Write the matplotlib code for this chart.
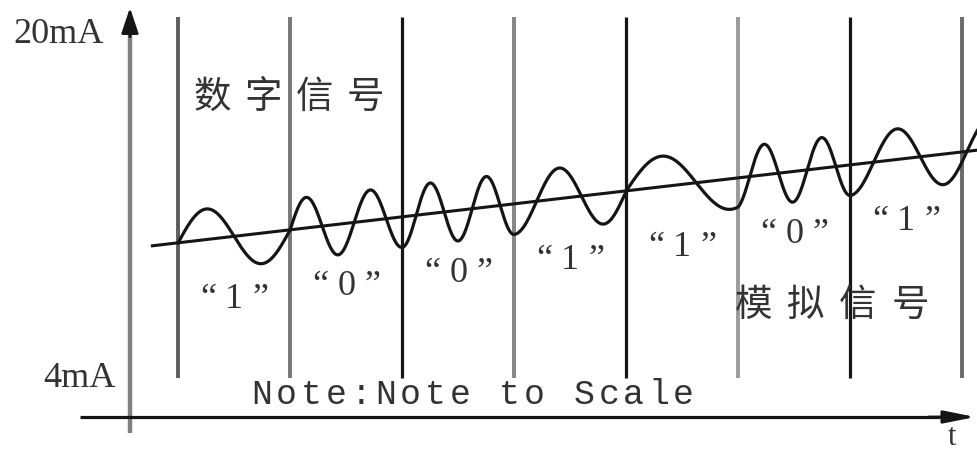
import numpy as np
import matplotlib
matplotlib.use('Agg')
import matplotlib.pyplot as plt

# HART style FSK: bit sequence and carrier cycles drawn in each bit cell
bits = ['1', '0', '0', '1', '1', '0', '1']
cycles = [1.0, 1.75, 2.0, 1.25, 0.8, 1.95, 1.2]

# analog loop current (mA) that the carrier rides on
line_t = [-0.23, 7.14]
line_ma = [10.1, 14.45]
amp_ma = 1.39

# bit cell dividers (bit index) and their ink
divider_t = [0, 1, 2, 3, 4, 5, 6, 7]
divider_colors = ['#5e5e5e', '#777777', '#161616', '#858585',
                  '#161616', '#9a9a9a', '#161616', '#6a6a6a']
divider_ma = [4.09, 20.5]

label_top = '20mA'
label_bottom = '4mA'
note = 'Note:Note to Scale'
digital_txt = '数字信号'
analog_txt = '模拟信号'

INK = '#151515'
TXT = '#333333'

fig = plt.figure(figsize=(9.78, 4.5), dpi=100)
ax = fig.add_axes([0, 0, 1, 1])
ax.set_xlim(-1.59, 7.14)
ax.set_ylim(0.82, 21.27)
ax.axis('off')


def spaced(x, y, s, pitch, centered=False, **kw):
    # place characters one by one with a fixed pixel pitch
    start = -(len(s) - 1) / 2 * pitch if centered else 0
    for i, ch in enumerate(s):
        if ch == ' ':
            continue
        ax.annotate(ch, (x, y), xytext=(start + i * pitch, 0), textcoords='offset pixels',
                    ha='center', va='center', **kw)


# axes with arrows
ax.plot([-0.43, -0.43], [1.59, 20.0], color='#808080', lw=3.2, solid_capstyle='butt', zorder=2)
ax.annotate('', xy=(-0.43, 20.92), xytext=(-0.43, 19.6),
            arrowprops=dict(arrowstyle='-|>,head_length=1.55,head_width=0.52',
                            color=INK, lw=2.0, shrinkA=0, shrinkB=0, mutation_scale=10))
ax.plot([-0.875, 6.8], [2.32, 2.32], color=INK, lw=2.3, solid_capstyle='butt', zorder=2)
ax.annotate('', xy=(7.116, 2.32), xytext=(6.7, 2.32),
            arrowprops=dict(arrowstyle='-|>,head_length=1.9,head_width=0.38',
                            color=INK, lw=2.0, shrinkA=0, shrinkB=0, mutation_scale=10))

# bit cell dividers
for t, c in zip(divider_t, divider_colors):
    lw = 2.3 if c == '#161616' else 2.8
    ax.plot([t, t], divider_ma, color=c, lw=lw, solid_capstyle='butt', zorder=1)

# analog current line
ax.plot(line_t, line_ma, color=INK, lw=2.2, zorder=3)

# FSK carrier, phase continuous from cell to cell
ts, ph = [], []
phase = 0.0
for k, n in enumerate(cycles):
    tt = np.linspace(k, k + 1, 200)
    ts.append(tt)
    ph.append(phase + n * (tt - k))
    phase += n
tail = np.linspace(len(cycles), line_t[1], 40)
ts.append(tail)
ph.append(phase + cycles[-1] * (tail - len(cycles)))
t_all = np.concatenate(ts)
ph_all = np.concatenate(ph)
base = np.interp(t_all, line_t, line_ma)
ax.plot(t_all, base + amp_ma * np.sin(2 * np.pi * ph_all), color=INK, lw=2.3, zorder=4)

# bit values under each cell
for k, b in enumerate(bits):
    tc = k + 0.5
    yc = np.interp(tc, line_t, line_ma) - 2.85
    spaced(tc, yc, '“' + b + '”', 26, centered=True, fontsize=26, color=TXT,
           family=['Liberation Serif', 'DejaVu Serif'])

# labels
ax.text(-1.473, 19.68, label_top, ha='left', va='center', fontsize=26,
        color=TXT, family=['Liberation Serif'])
ax.text(-1.205, 4.07, label_bottom, ha='left', va='center', fontsize=26,
        color=TXT, family=['Liberation Serif'])
spaced(0.745, 3.32, note, 24.8, fontsize=25, color=TXT,
       family=['Liberation Mono'])
spaced(0.304, 16.84, digital_txt, 51, fontsize=27, color=TXT,
       family=['Noto Sans CJK SC'])
spaced(5.14, 7.41, analog_txt, 52, fontsize=27, color=TXT,
       family=['Noto Sans CJK SC'])
ax.text(6.91, 1.4, 't', ha='center', va='center', fontsize=22,
        color=TXT, family=['Liberation Serif'])

fig.savefig('out.png', dpi=100)
